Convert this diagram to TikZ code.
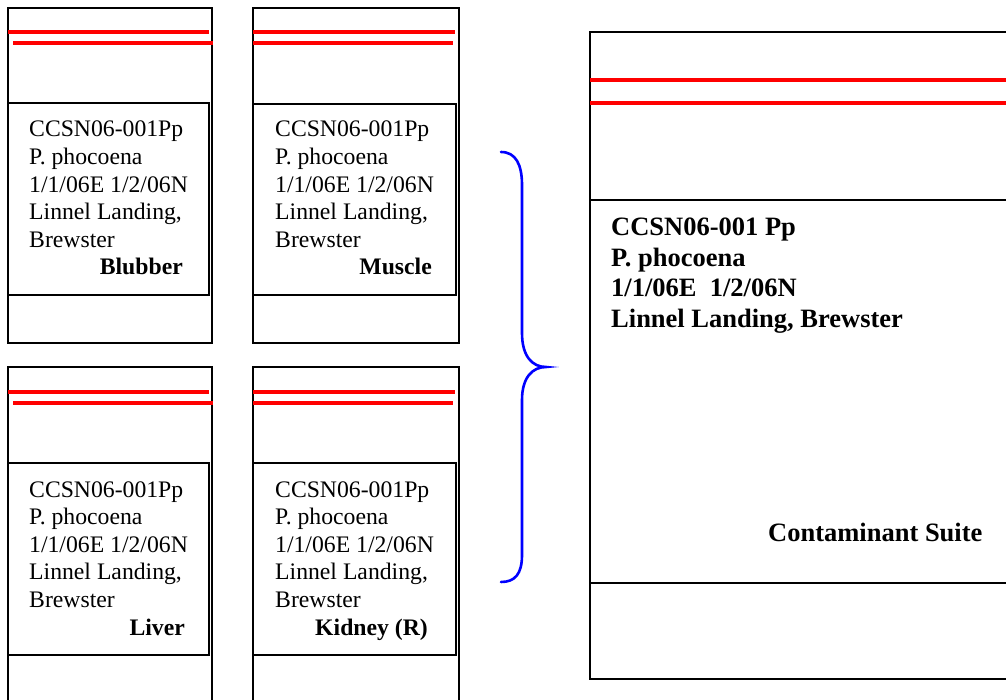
\documentclass[tikz,border=0pt]{standalone}
\usepackage{fontspec}
\setmainfont{Liberation Serif}
\newcommand\specimenlines{\begin{tabular}[t]{@{}l@{}}CCSN06-001Pp\\P. phocoena\\1/1/06E 1/2/06N\\Linnel Landing,\\Brewster\end{tabular}}
\begin{document}
\begin{tikzpicture}[x=1pt,y=-1pt,
  frame/.style={draw=black,line width=1.6pt},
  redline/.style={draw=red,line width=3.6pt},
  bracepath/.style={draw=blue,line width=2.6pt,line cap=round},
  smalltext/.style={anchor=base west,inner sep=0pt,font=\fontsize{23.7}{27.6}\selectfont},
  tissue/.style={anchor=base east,inner sep=0pt,font=\fontsize{23.7}{27.6}\selectfont\bfseries},
  bigtext/.style={anchor=base west,inner sep=0pt,font=\fontsize{26.5}{30.5}\selectfont\bfseries}]
\useasboundingbox (0,0) rectangle (1006,700);
\clip (0,0) rectangle (1006,700);
% box 1
\draw[frame] (8,8) rectangle (212,343);
\draw[frame] (8,103) rectangle (209,295);
\draw[redline] (8,32) -- (209,32);
\draw[redline] (13,43) -- (213,43);
% box 2
\draw[frame] (253,8) rectangle (459,343);
\draw[frame] (253,104) rectangle (456,295);
\draw[redline] (253,32) -- (455,32);
\draw[redline] (253,43) -- (453,43);
% box 3
\draw[frame] (8,367) rectangle (212,712);
\draw[frame] (8,463) rectangle (209,655);
\draw[redline] (8,392) -- (209,392);
\draw[redline] (13,403) -- (213,403);
% box 4
\draw[frame] (253,367) rectangle (459,712);
\draw[frame] (253,463) rectangle (456,655);
\draw[redline] (253,392) -- (455,392);
\draw[redline] (253,403) -- (453,403);
% big box
\draw[frame] (590,32) rectangle (1012,679);
\draw[frame] (590,200) -- (1012,200);
\draw[frame] (590,583) -- (1012,583);
\draw[redline] (590,80) -- (1012,80);
\draw[redline] (590,103) -- (1012,103);
% texts
\node[smalltext] (t1) at (29,137) {\specimenlines};
\node[tissue] (l1) at (183,275) {Blubber};
\node[smalltext] (t2) at (275,137) {\specimenlines};
\node[tissue] (l2) at (432,275) {Muscle};
\node[smalltext] (t3) at (29,497) {\specimenlines};
\node[tissue] (l3) at (185,635) {Liver};
\node[smalltext] (t4) at (275,497) {\specimenlines};
\node[tissue] (l4) at (428,635) {Kidney (R)};
\node[bigtext] (big) at (611,236) {\begin{tabular}[t]{@{}l@{}}CCSN06-001 Pp\\P. phocoena\\1/1/06E\ \ 1/2/06N\\Linnel Landing, Brewster\end{tabular}};
\node[bigtext] (suite) at (768,541) {Contaminant Suite};
% brace
\draw[bracepath] (501,152) .. controls (516,152) and (522,165) .. (522,185) -- (522,333)
  .. controls (522,356) and (532,367) .. (546,367)
  .. controls (532,367) and (522,378) .. (522,400) -- (522,555)
  .. controls (522,574) and (515,582) .. (501,582);
\end{tikzpicture}
\end{document}
